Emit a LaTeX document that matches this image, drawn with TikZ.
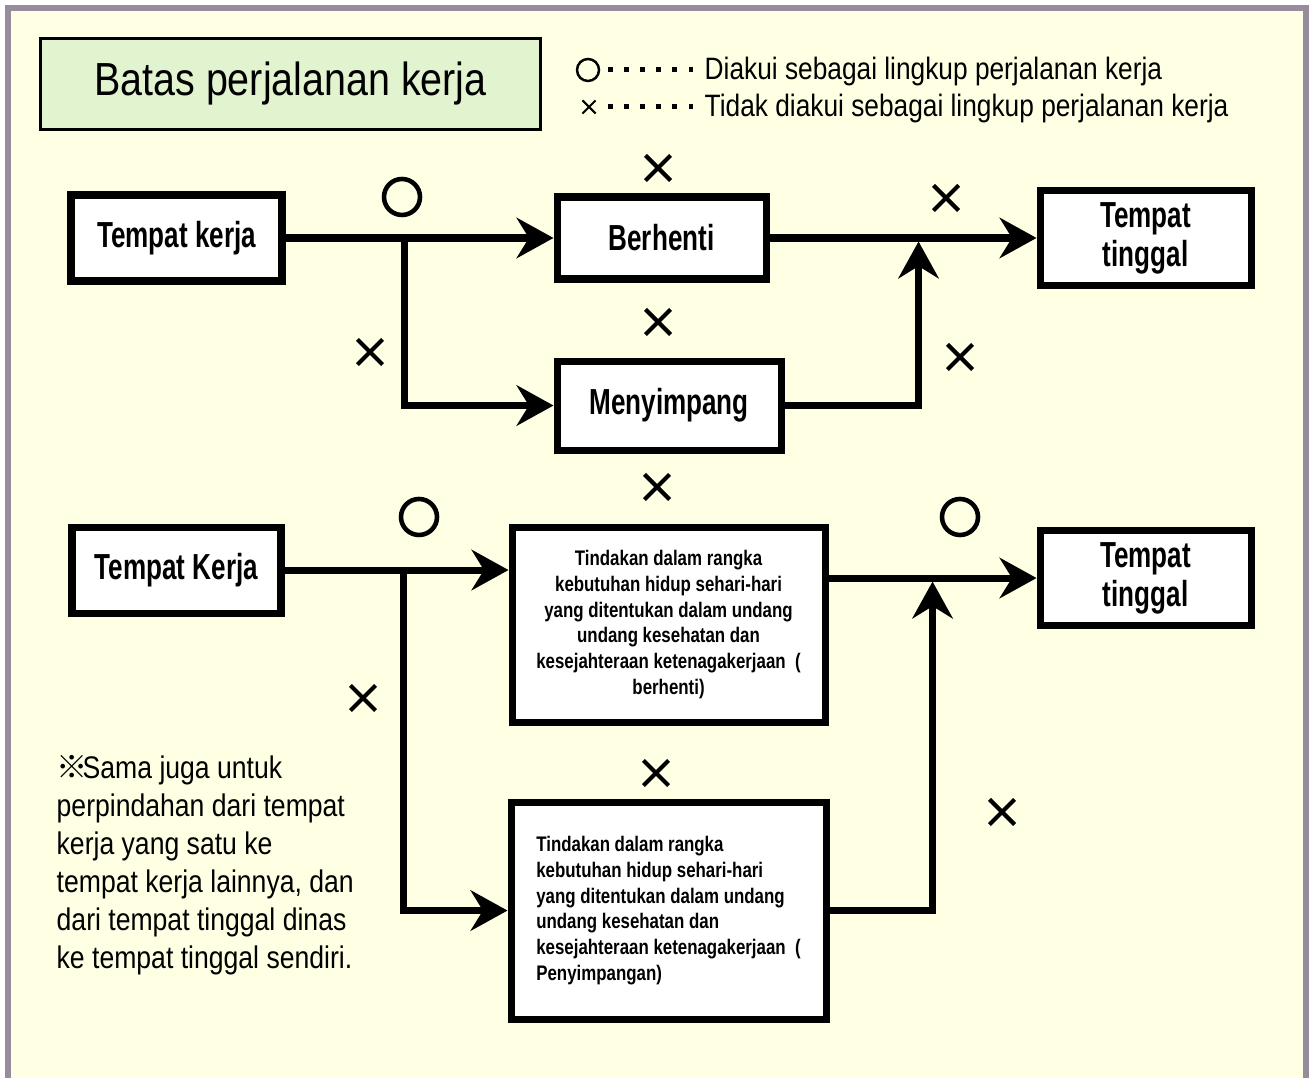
\documentclass[tikz,border=0pt]{standalone}
\usepackage{fontspec}
\setmainfont[FakeStretch=0.85]{Liberation Sans}
\newfontfamily\labelfont[FakeStretch=0.72]{Liberation Sans}
\newfontfamily\smallfont[FakeStretch=0.80]{Liberation Sans}
\newfontfamily\markfont{Noto Sans CJK JP}
\usepackage{xcolor}
\usetikzlibrary{positioning, arrows.meta, shapes.misc}

\definecolor{paper}{RGB}{255,255,228}
\definecolor{titlegreen}{RGB}{226,243,208}
\definecolor{framegray}{RGB}{150,140,155}

\newcommand{\legdot}{\raisebox{2.3pt}{\rule{1.4pt}{1.4pt}}\hspace{3.2pt}}

\begin{document}
\begin{tikzpicture}[
                    every node/.style={align=center},
                    place/.style={draw, line width=2pt, fill=white, minimum width=2.11cm, minimum height=0.86cm,
                                  font=\labelfont\bfseries\fontsize{10.3}{11.1}\selectfont},
                    action/.style={draw, line width=2pt, fill=white,
                                   font=\smallfont\bfseries\fontsize{6}{7.3}\selectfont},
                    flow/.style={-{Stealth[length=10.5pt, width=11.5pt, inset=3.5pt]}, line width=2pt},
                    okmark/.style={draw, circle, line width=1.3pt, minimum size=0.36cm, inner sep=0pt},
                    nomark/.style={draw, cross out, line width=1.2pt, minimum size=0.21cm, inner sep=0pt},
                    legend/.style={anchor=west, inner sep=0pt, font=\fontsize{8.8}{11}\selectfont}
                ]

                    % Background and frame
                    \useasboundingbox (0,0) rectangle (13.11,-10.78);
                    \fill[white] (0,0) rectangle (13.11,-10.78);
                    \draw[framegray, line width=1.5pt, fill=paper] (0.08,-10.9) -- (0.08,-0.08) -- (13.06,-0.08) -- (13.06,-10.9);

                    % Title and legend
                    \node (title) [draw, line width=0.8pt, fill=titlegreen, minimum width=5.0cm, minimum height=0.91cm,
                                   font=\fontsize{13.2}{15}\selectfont] at (2.905,-0.84) {Batas perjalanan kerja};
                    \node (legok) [okmark, line width=0.7pt, minimum size=0.22cm] at (5.88,-0.70) {};
                    \node (legno) [nomark, line width=0.6pt, minimum size=0.11cm] at (5.89,-1.07) {};
                    \node (legoktext) [legend] at (6.07,-0.72) {\legdot\legdot\legdot\legdot\legdot\legdot Diakui sebagai lingkup perjalanan kerja};
                    \node (legnotext) [legend] at (6.07,-1.09) {\legdot\legdot\legdot\legdot\legdot\legdot Tidak diakui sebagai lingkup perjalanan kerja};

                    % Nodes (upper route)
                    \node (work) [place] at (1.765,-2.38) {Tempat kerja};
                    \node (stop) [place, minimum width=2.09cm, minimum height=0.82cm, right=2.68cm of work] {Berhenti};
                    \node (home) [place, minimum height=0.90cm, right=2.67cm of stop] {Tempat\\tinggal};
                    \node (detour) [place, minimum width=2.24cm, minimum height=0.89cm,
                                    below=0.75cm of stop.south west, anchor=north west] {Menyimpang};

                    % Nodes (lower route)
                    \node (work2) [place, minimum width=2.09cm, below=2.39cm of work] {Tempat Kerja};
                    \node (needs) [action, minimum width=3.13cm, minimum height=1.95cm,
                                   right=2.24cm of work2.north east, anchor=north west]
                          {Tindakan dalam rangka\\kebutuhan hidup sehari-hari\\yang ditentukan dalam undang\\undang kesehatan dan\\kesejahteraan ketenagakerjaan~~(\\berhenti)};
                    \node (home2) [place, below=2.38cm of home] {Tempat\\tinggal};
                    \node (sidetrip) [action, align=left, minimum width=3.15cm, minimum height=2.17cm, below=0.73cm of needs]
                          {Tindakan dalam rangka\\kebutuhan hidup sehari-hari\\yang ditentukan dalam undang\\undang kesehatan dan\\kesejahteraan ketenagakerjaan~~(\\Penyimpangan)};

                    % Branch points
                    \coordinate[right=1.19cm of work.east] (fork1);
                    \coordinate[left=1.18cm of home.west] (join1);
                    \coordinate[right=1.19cm of work2.east] (fork2);
                    \coordinate[left=1.04cm of home2.west] (join2);

                    % Arrows
                    \draw[flow] (work.east) -- (work.east -| stop.west);
                    \draw[flow] (fork1) |- (detour.west);
                    \draw[flow] (stop.east) -- (stop.east -| home.west);
                    \draw[flow] (detour.east) -| ([yshift=-1pt]join1);
                    \draw[flow] (work2.east) -- (work2.east -| needs.west);
                    \draw[flow] (fork2) |- (sidetrip.west);
                    \draw[flow] (needs.east |- home2.west) -- (home2.west);
                    \draw[flow] (sidetrip.east) -| ([yshift=-1pt]join2);

                    % Marks
                    \node (ok1) [okmark] at (4.02,-1.97) {};
                    \node (no1) [nomark] at (6.58,-1.68) {};
                    \node (no2) [nomark] at (9.46,-1.98) {};
                    \node (no3) [nomark] at (6.58,-3.22) {};
                    \node (no4) [nomark] at (3.70,-3.52) {};
                    \node (no5) [nomark] at (9.60,-3.57) {};
                    \node (ok2) [okmark] at (4.19,-5.17) {};
                    \node (no6) [nomark] at (6.57,-4.87) {};
                    \node (ok3) [okmark] at (9.60,-5.17) {};
                    \node (no7) [nomark] at (3.63,-6.98) {};
                    \node (no8) [nomark] at (6.56,-7.73) {};
                    \node (no9) [nomark] at (10.02,-8.12) {};

                    % Note
                    \node (note) [anchor=north west, align=left, inner sep=0pt, font=\fontsize{8.9}{10.8}\selectfont] at (0.56,-7.55)
                          {{\markfont ※}\hspace{-1.5pt}Sama juga untuk\\perpindahan dari tempat\\kerja yang satu ke\\tempat kerja lainnya, dan\\dari tempat tinggal dinas\\ke tempat tinggal sendiri.};

                \end{tikzpicture}
\end{document}
